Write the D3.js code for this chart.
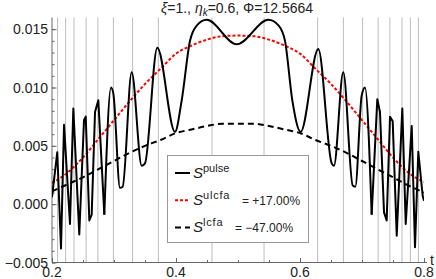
<!DOCTYPE html>
<html>
<head>
<meta charset="utf-8">
<script src="https://cdn.jsdelivr.net/npm/d3@7"></script>
<style>
  body { margin: 0; background: #fff; }
  svg { display: block; font-family: "Liberation Sans", Arial, sans-serif; }
  .tick-label { font-size: 14px; fill: #222; }
</style>
</head>
<body>
<div id="chart"></div>
<script>
const W = 436, H = 279;

// vertical reference lines (t)
const gridT = [0.209, 0.222, 0.2355, 0.255, 0.274, 0.299, 0.330, 0.3715, 0.458,
               0.542, 0.6285, 0.670, 0.701, 0.726, 0.745, 0.7645, 0.778, 0.791];

// smooth curves sampled on t
const tSmooth = [0.2, 0.225, 0.25, 0.275, 0.3, 0.325, 0.35, 0.375, 0.4, 0.425, 0.45, 0.475, 0.5,
                 0.525, 0.55, 0.575, 0.6, 0.625, 0.65, 0.675, 0.7, 0.725, 0.75, 0.775, 0.8];
const ulcfa = [0.0018, 0.0027, 0.0040, 0.0056, 0.0072, 0.0088, 0.0103, 0.0116, 0.0129, 0.0136, 0.0141, 0.0144, 0.01445,
               0.0144, 0.0141, 0.0136, 0.0129, 0.0116, 0.0103, 0.0088, 0.0072, 0.0056, 0.0040, 0.0027, 0.0019];
const lcfa = [0.0011, 0.0017, 0.0023, 0.0030, 0.0037, 0.0044, 0.0050, 0.0055, 0.0061, 0.0064, 0.0067, 0.0069, 0.0069,
              0.0069, 0.0067, 0.0064, 0.0061, 0.0055, 0.0050, 0.0044, 0.0037, 0.0030, 0.0023, 0.0016, 0.0010];

// pulse curve: extremes
const tPulse = [0.2000, 0.2085, 0.2145, 0.2194, 0.2290, 0.2344, 0.2440, 0.2516, 0.2544, 0.2602, 0.2640,
                0.2694, 0.2747, 0.2844, 0.2952, 0.2989, 0.3097, 0.3140, 0.3285, 0.3447, 0.3500, 0.3698,
                0.3984, 0.4092, 0.4226, 0.4334, 0.4495, 0.4979, 0.5489, 0.5656, 0.5758, 0.5876, 0.6011,
                0.6295, 0.6511, 0.6548, 0.6698, 0.6850, 0.6892, 0.6995, 0.7048, 0.7156, 0.7247, 0.7290,
                0.7355, 0.7398, 0.7452, 0.7495, 0.7560, 0.7650, 0.7705, 0.7802, 0.7855, 0.7908, 0.7979, 0.8000];
const pulse = [0.0006, 0.00445, -0.0038, 0.0068, -0.0017, 0.0082, -0.0026, 0.0072, 0.0075, -0.0014, -0.0009,
               0.0079, 0.0089, -0.0009, 0.0100, 0.0095, 0.0014, 0.0015, 0.0113, 0.0033, 0.0035, 0.0134,
               0.0062, 0.0089, 0.0140, 0.0153, 0.0158, 0.0137, 0.0158, 0.0153, 0.0140, 0.0089, 0.0062,
               0.0133, 0.0035, 0.0033, 0.0113, 0.0016, 0.0015, 0.0093, 0.0100, -0.0009, 0.0090, 0.0079,
               -0.0007, -0.0014, 0.0075, 0.0071, -0.0027, 0.0082, -0.0017, 0.0067, -0.0037, 0.0045, 0.0007, 0.0003];

const xTicks = [0.2, 0.4, 0.6, 0.8];
const yTicks = [-0.005, 0, 0.005, 0.010, 0.015];
const legendNames = ["pulse", "ulcfa", "lcfa"];
const legendValues = ["", "= +17.00%", "= \u221247.00%"];

const svg = d3.select("#chart")
    .append("svg")
    .attr("width", W)
    .attr("height", H);

const x = d3.scaleLinear().domain([0.2, 0.8]).range([52, 424]);
const y = d3.scaleLinear().domain([-0.005, 0.016]).range([262.5, 17.5]);

svg.append("clipPath").attr("id", "clip")
  .append("rect")
    .attr("x", x(0.2)).attr("y", y(0.016))
    .attr("width", x(0.8) - x(0.2)).attr("height", y(-0.005) - y(0.016));

// grid lines
svg.append("g")
  .selectAll("line")
  .data(gridT)
  .join("line")
    .attr("x1", d => x(d)).attr("x2", d => x(d))
    .attr("y1", y(0.016)).attr("y2", y(-0.005))
    .attr("stroke", "#bdbdbd")
    .attr("stroke-width", 1);

// axes (Mathematica style: ticks inside)
const axisColor = "#666";
const yAxis = svg.append("g").attr("transform", `translate(${x(0.2)},0)`);
yAxis.call(d3.axisRight(y).tickValues(d3.range(-5, 16).map(d => d / 1000)).tickSize(2.5).tickFormat(""))
    .call(g => g.select(".domain").remove());
yAxis.call(g => g.selectAll(".tick line").attr("stroke", axisColor));
yAxis.append("g")
    .call(d3.axisRight(y).tickValues(yTicks).tickSize(4.5).tickFormat(""))
    .call(g => g.select(".domain").remove())
    .call(g => g.selectAll(".tick line").attr("stroke", axisColor));
yAxis.append("line")
    .attr("x1", 0).attr("x2", 0)
    .attr("y1", y(0.016)).attr("y2", y(-0.005))
    .attr("stroke", axisColor);

svg.append("g")
  .selectAll("text")
  .data(yTicks)
  .join("text")
    .attr("class", "tick-label")
    .attr("x", x(0.2) - 4)
    .attr("y", d => y(d) + 5)
    .attr("text-anchor", "end")
    .text(d => d3.format(".3f")(d));

const xAxis = svg.append("g").attr("transform", `translate(0,${y(-0.005)})`);
xAxis.call(d3.axisTop(x).tickValues(d3.range(4, 17).map(d => d * 0.05)).tickSize(2.5).tickFormat(""))
    .call(g => g.select(".domain").remove())
    .call(g => g.selectAll(".tick line").attr("stroke", axisColor));
xAxis.append("g")
    .call(d3.axisTop(x).tickValues(xTicks).tickSize(4.5).tickFormat(""))
    .call(g => g.select(".domain").remove())
    .call(g => g.selectAll(".tick line").attr("stroke", axisColor));
xAxis.append("line")
    .attr("x1", x(0.2)).attr("x2", x(0.8) + 3)
    .attr("stroke", axisColor);

svg.append("g")
  .selectAll("text")
  .data(xTicks)
  .join("text")
    .attr("class", "tick-label")
    .attr("x", d => x(d))
    .attr("y", 277)
    .attr("text-anchor", "middle")
    .text(d => d3.format(".1f")(d));

svg.append("text")
    .attr("class", "tick-label")
    .attr("x", 430)
    .attr("y", 265)
    .text("t");

// curves
const plot = svg.append("g").attr("clip-path", "url(#clip)");
const smoothLine = d3.line()
    .x((d, i) => x(tSmooth[i]))
    .y(d => y(d))
    .curve(d3.curveMonotoneX);

plot.append("path")
    .datum(lcfa)
    .attr("d", smoothLine)
    .attr("fill", "none")
    .attr("stroke", "#000")
    .attr("stroke-width", 2)
    .attr("stroke-dasharray", "6,4");

plot.append("path")
    .datum(ulcfa)
    .attr("d", smoothLine)
    .attr("fill", "none")
    .attr("stroke", "#ff0000")
    .attr("stroke-width", 2)
    .attr("stroke-dasharray", "3,2");

// pulse: sharp zigzag near the edges, smooth lobes in the middle
const pulsePts = pulse.map((v, i) => [tPulse[i], v]);
const pulseParts = [
    { pts: pulsePts.slice(0, 14), curve: d3.curveLinear },
    { pts: pulsePts.slice(13, 42), curve: d3.curveMonotoneX },
    { pts: pulsePts.slice(41), curve: d3.curveLinear }
];
pulseParts.forEach(p => {
    plot.append("path")
        .datum(p.pts)
        .attr("d", d3.line().x(d => x(d[0])).y(d => y(d[1])).curve(p.curve))
        .attr("fill", "none")
        .attr("stroke", "#000")
        .attr("stroke-width", 2)
        .attr("stroke-linejoin", "round");
});

// title
const title = svg.append("text")
    .attr("x", 237)
    .attr("y", 12.5)
    .attr("text-anchor", "middle")
    .style("font-size", "14px")
    .attr("fill", "#222");
title.append("tspan").style("font-style", "italic").text("\u03be");
title.append("tspan").text("=1., ");
title.append("tspan").style("font-style", "italic").text("\u03b7");
title.append("tspan").style("font-style", "italic").style("font-size", "10px").attr("dy", 3).text("k");
title.append("tspan").attr("dy", -3).text("=0.6, \u03a6=12.5664");

// legend
const legend = svg.append("g");
legend.append("rect")
    .attr("x", 167.5).attr("y", 155.5)
    .attr("width", 141).attr("height", 87)
    .attr("fill", "#fff")
    .attr("stroke", "#999");

const legendStyles = [
    { color: "#000", dash: null, vx: 0 },
    { color: "#ff0000", dash: "3,2", vx: 242 },
    { color: "#000", dash: "6,4", vx: 235 }
];
legendNames.forEach((name, i) => {
    const ly = 173 + i * 27.3;
    legend.append("line")
        .attr("x1", 175).attr("x2", 190)
        .attr("y1", ly).attr("y2", ly)
        .attr("stroke", legendStyles[i].color)
        .attr("stroke-width", 2)
        .attr("stroke-dasharray", legendStyles[i].dash);
    const t = legend.append("text")
        .attr("x", 193)
        .attr("y", ly + 4.5)
        .attr("fill", "#222");
    t.append("tspan").style("font-style", "italic").style("font-size", "15px").text("S");
    t.append("tspan").style("font-size", "11px").style("letter-spacing", i ? "0.8px" : "0")
        .attr("x", 203).attr("dy", -6).text(name);
    if (legendValues[i]) {
        t.append("tspan").style("font-size", "12px")
            .attr("x", legendStyles[i].vx).attr("dy", 6).text(legendValues[i]);
    }
});
</script>
</body>
</html>
